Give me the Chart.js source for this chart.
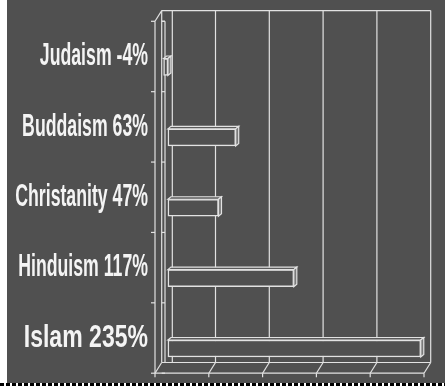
<!DOCTYPE html>
<html>
<head>
<meta charset="utf-8">
<script src="https://cdn.jsdelivr.net/npm/chart.js@4/dist/chart.umd.min.js"></script>
<style>
  html, body { margin: 0; padding: 0; background: #fff; }
  #wrap { position: absolute; left: 7px; top: 0; width: 438px; height: 386px; background: #505050; }
  #dash { position: absolute; left: 0; top: 383px; width: 445px; height: 3px;
          background: repeating-linear-gradient(90deg, #000 0 4px, #fff 4px 6px); }
</style>
</head>
<body>
<div id="wrap"><canvas id="growthChart" width="438" height="386"></canvas></div>
<div id="dash"></div>
<script>
// religions and their growth (%)
const religions = ['Judaism', 'Buddaism', 'Christanity', 'Hinduism', 'Islam'];
const growth = [-4, 63, 47, 117, 235];
const labels = religions.map((r, i) => r + ' ' + growth[i] + '%');

// value axis (no tick labels shown)
const xMin = -12;
const xMax = 238;
const xStep = 50;

const lineColor = '#e2e2e2';
const textColor = '#f4f4f4';

// fake 3D offsets
const FRONT_DY = -10.5;   // front plane vs bar plane
const DEPTH_X = 6.7;      // back wall vs front plane
const DEPTH_Y = -10.7;
const BAR_DX = 3;
const BAR_DY = -2.5;

// horizontal squeeze of the label text (the last one is wider in the original)
const labelStretch = [0.553, 0.553, 0.553, 0.553, 0.72];

function seg(ctx, x1, y1, x2, y2) {
    ctx.beginPath();
    ctx.moveTo(x1, y1);
    ctx.lineTo(x2, y2);
    ctx.stroke();
}

// walls, floor and grid
const wallsPlugin = {
    id: 'walls',
    beforeDatasetsDraw(chart) {
        const ctx = chart.ctx, a = chart.chartArea, xs = chart.scales.x;
        const ticks = [];
        for (let v = xMin; v <= xMax + 0.001; v += xStep) ticks.push(xs.getPixelForValue(v));
        const fL = ticks[0], fR = ticks[ticks.length - 1];
        const fTop = a.top + FRONT_DY, fBot = a.bottom + FRONT_DY;
        const bTop = fTop + DEPTH_Y, bBot = fBot + DEPTH_Y;

        ctx.save();
        ctx.strokeStyle = lineColor;
        ctx.lineWidth = 1.2;

        // back wall
        seg(ctx, fL + DEPTH_X, bTop, fR + DEPTH_X, bTop);
        ticks.forEach(t => seg(ctx, t + DEPTH_X, bTop, t + DEPTH_X, bBot));
        const zx = xs.getPixelForValue(0) + 4.4;
        seg(ctx, zx, bTop, zx, bBot);

        // left wall
        seg(ctx, fL, fTop, fL, fBot);
        seg(ctx, fL, fTop, fL + DEPTH_X, bTop);
        seg(ctx, fL + DEPTH_X, fTop, fL + DEPTH_X + 3.3, fTop);
        seg(ctx, fL + DEPTH_X + 3.3, fTop, fL + DEPTH_X + 3.3, bBot);

        // category ticks
        const n = labels.length;
        const band = (a.bottom - a.top) / n;
        for (let i = 0; i <= n; i++) {
            const y = a.top + i * band + FRONT_DY;
            seg(ctx, fL - 4, y, fL, y);
            seg(ctx, fL + DEPTH_X, y, fL + DEPTH_X + 3.3, y);
        }

        // floor
        seg(ctx, fL, fBot, fR, fBot);
        seg(ctx, fL + DEPTH_X, bBot, fR + DEPTH_X, bBot);
        ticks.forEach(t => {
            seg(ctx, t, fBot, t + DEPTH_X, bBot);
            seg(ctx, t, fBot, t, fBot + 4);
        });
        ctx.restore();
    }
};

// top and side faces of the bars
const bar3dPlugin = {
    id: 'bar3d',
    afterDatasetsDraw(chart) {
        const ctx = chart.ctx;
        const meta = chart.getDatasetMeta(0);
        ctx.save();
        ctx.strokeStyle = lineColor;
        ctx.lineWidth = 1.2;
        meta.data.forEach(bar => {
            const p = bar.getProps(['x', 'y', 'base', 'height'], true);
            const x0 = Math.min(p.x, p.base), x1 = Math.max(p.x, p.base);
            const y0 = p.y - p.height / 2, y1 = p.y + p.height / 2;

            ctx.fillStyle = '#5c5c5c';
            ctx.beginPath();
            ctx.moveTo(x0, y0);
            ctx.lineTo(x0 + BAR_DX, y0 + BAR_DY);
            ctx.lineTo(x1 + BAR_DX, y0 + BAR_DY);
            ctx.lineTo(x1, y0);
            ctx.closePath();
            ctx.fill();
            ctx.stroke();

            ctx.fillStyle = '#7a7a7a';
            ctx.beginPath();
            ctx.moveTo(x1, y0);
            ctx.lineTo(x1 + BAR_DX, y0 + BAR_DY);
            ctx.lineTo(x1 + BAR_DX, y1 + BAR_DY);
            ctx.lineTo(x1, y1);
            ctx.closePath();
            ctx.fill();
            ctx.stroke();
        });
        ctx.restore();
    }
};

// condensed bold category labels
const labelsPlugin = {
    id: 'catLabels',
    afterDraw(chart) {
        const ctx = chart.ctx, ys = chart.scales.y;
        const right = chart.scales.x.getPixelForValue(xMin) - 7;
        ctx.save();
        ctx.fillStyle = textColor;
        ctx.font = "bold 32px 'Liberation Sans', Arial, sans-serif";
        ctx.textAlign = 'right';
        ctx.textBaseline = 'middle';
        labels.forEach((lab, i) => {
            const y = ys.getPixelForValue(i) + FRONT_DY;
            ctx.save();
            ctx.translate(right, y);
            ctx.scale(labelStretch[i], 1);
            ctx.fillText(lab, 0, 0);
            ctx.restore();
        });
        ctx.restore();
    }
};

new Chart(document.getElementById('growthChart').getContext('2d'), {
    type: 'bar',
    data: {
        labels: labels,
        datasets: [{
            data: growth,
            backgroundColor: '#505050',
            borderColor: lineColor,
            borderWidth: 1.5,
            borderSkipped: false,
            barThickness: 17
        }]
    },
    options: {
        indexAxis: 'y',
        responsive: false,
        animation: false,
        layout: {
            padding: { left: 148, right: 21, top: 31.8, bottom: 2.3 }
        },
        plugins: {
            legend: { display: false },
            tooltip: { enabled: false }
        },
        scales: {
            x: { display: false, min: xMin, max: xMax },
            y: { display: false }
        }
    },
    plugins: [wallsPlugin, bar3dPlugin, labelsPlugin]
});
</script>
</body>
</html>
